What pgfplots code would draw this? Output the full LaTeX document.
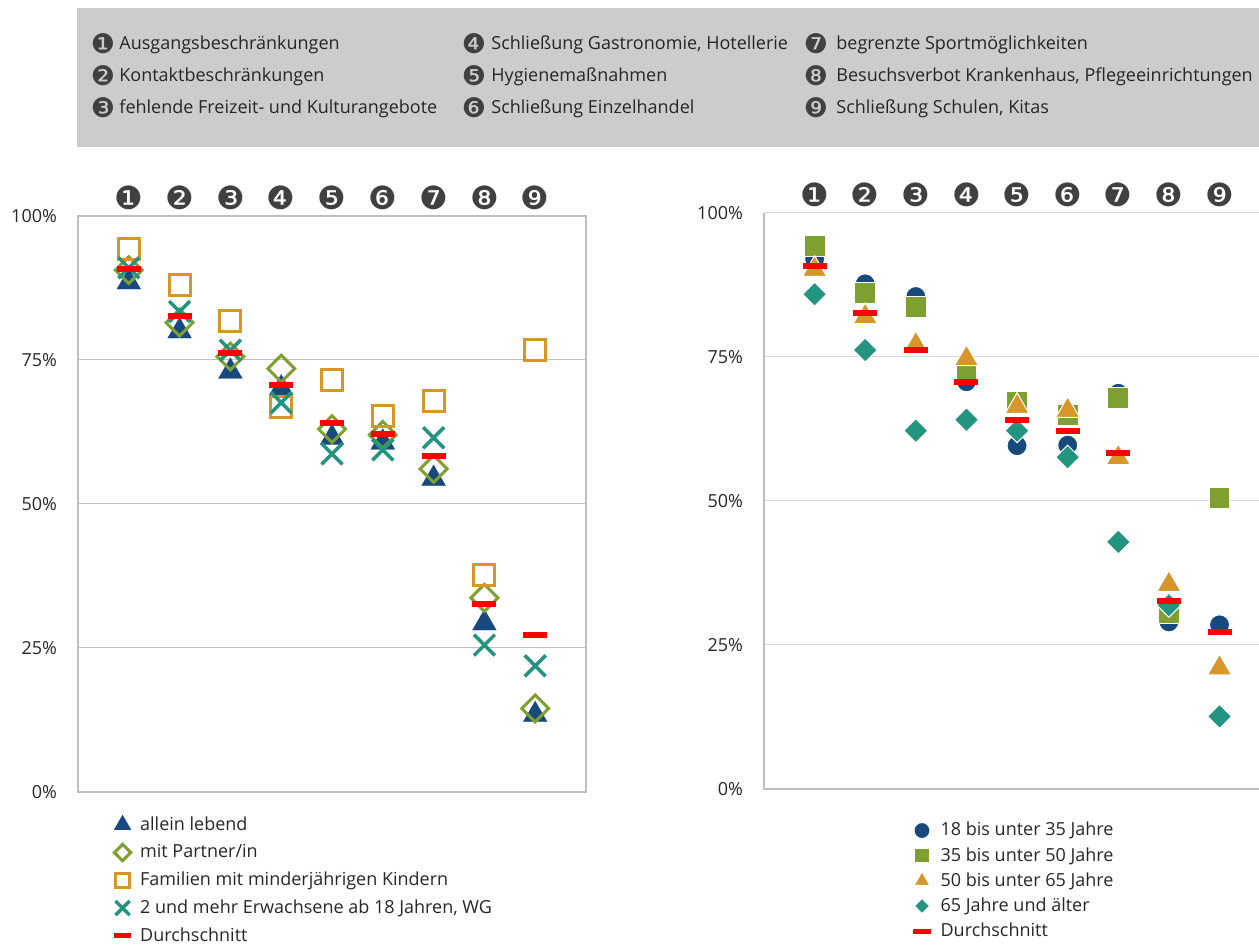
\documentclass[border=0pt]{standalone}
\usepackage{pgfplots}
\pgfplotsset{compat=1.18}
\usepackage{fontspec}
\setmainfont{Open Sans}
\newfontfamily\dingfont{DejaVu Sans}

\definecolor{boxgray}{RGB}{204,204,204}
\definecolor{txt}{RGB}{38,38,38}
\definecolor{dig}{RGB}{64,64,64}
\definecolor{cblue}{RGB}{23,72,126}
\definecolor{cgreen}{RGB}{126,160,48}
\definecolor{corange}{RGB}{217,150,40}
\definecolor{cteal}{RGB}{34,148,128}
\definecolor{framec}{RGB}{191,191,191}
\definecolor{gridr}{RGB}{217,217,217}

\pgfplotsset{
  base/.style={
    scale only axis, height=288pt,
    xmin=0, ymin=0, ymax=100,
    clip=false, only marks,
    legend image code/.code={\draw[mark repeat=2,mark phase=2,##1] plot coordinates {(0pt,0pt)(5pt,0pt)(10pt,0pt)};},
    xtick={1,2,3,4,5,6,7,8,9},
    xticklabels={❶,❷,❸,❹,❺,❻,❼,❽,❾},
    xticklabel pos=upper,
    xticklabel style={font=\dingfont\fontsize{16}{16}\selectfont, text=dig,
      inner sep=0pt, anchor=south, yshift=3pt},
    ytick={0,25,50,75,100},
    yticklabels={0\%,25\%,50\%,75\%,100\%},
    yticklabel style={font=\fontsize{9}{9}\selectfont, text=txt, xshift=-7pt},
    major tick length=0pt,
    legend cell align=left,
    legend style={draw=none, fill=none, anchor=north west,
      font=\fontsize{9}{9}\selectfont, text=txt, inner sep=0pt},
  },
}

\begin{document}
\begin{tikzpicture}
\useasboundingbox (0,0) rectangle (629.5pt,472.5pt);

\begin{scope}[x=0.5pt,y=0.5pt]
\fill[boxgray] (77,798) rectangle (1259,937);
\begin{scope}[every node/.style={inner sep=0pt, text=txt, font=\fontsize{9}{9}\selectfont}]
\node[anchor=base west] at (119,895) {Ausgangsbeschränkungen};
\node[anchor=base west] at (119,863) {Kontaktbeschränkungen};
\node[anchor=base west] at (119,831) {fehlende Freizeit- und Kulturangebote};
\node[anchor=base west] at (491,895) {Schließung Gastronomie, Hotellerie};
\node[anchor=base west] at (491,863) {Hygienemaßnahmen};
\node[anchor=base west] at (491,831) {Schließung Einzelhandel};
\node[anchor=base west] at (836,895) {begrenzte Sportmöglichkeiten};
\node[anchor=base west] at (836,863) {Besuchsverbot Krankenhaus, Pflegeeinrichtungen};
\node[anchor=base west] at (836,831) {Schließung Schulen, Kitas};
\end{scope}
\begin{scope}[every node/.style={inner sep=0pt, anchor=center, text=dig, font=\dingfont\fontsize{13.5}{13.5}\selectfont}]
\node at (103,901) {❶};
\node at (103,869) {❷};
\node at (103,837) {❸};
\node at (474,901) {❹};
\node at (474,869) {❺};
\node at (474,837) {❻};
\node at (816,901) {❼};
\node at (816,869) {❽};
\node at (816,837) {❾};
\end{scope}
\end{scope}

% left chart: household types
\begin{axis}[base,
  width=254pt, xmax=10,
  at={(39pt,76.5pt)}, anchor=south west,
  axis line style={draw=framec, line width=0.7pt},
  ymajorgrids, grid style={draw=framec, line width=0.5pt},
  legend style={at={(0.07,-0.035)}, row sep=1.6pt, column sep=2.5pt},
]
\addplot[color=cblue, mark=triangle*, mark size=6.9pt,
  mark options={fill=cblue, draw=cblue, line width=0.1pt},
  legend image post style={mark size=4.9pt}]
  coordinates {(1,88.5) (2,80.0) (3,73.0) (4,70.1) (5,61.5) (6,60.7) (7,54.4) (8,29.3) (9,13.4)};
\addplot[color=cgreen, mark=square, mark size=4.75pt,
  mark options={rotate=45, line width=1.5pt},
  legend image post style={mark size=2.9pt}]
  coordinates {(1,90.6) (2,81.5) (3,75.6) (4,73.5) (5,63.0) (6,62.0) (7,56.1) (8,33.7) (9,14.5)};
\addplot[color=corange, mark=square, mark size=5.25pt,
  mark options={line width=1.5pt},
  legend image post style={mark size=3.5pt}]
  coordinates {(1,94.3) (2,88.1) (3,81.8) (4,66.9) (5,71.5) (6,65.2) (7,67.9) (8,37.7) (9,76.8)};
\addplot[color=cteal, mark=x, mark size=7.4pt,
  mark options={line width=1.75pt},
  legend image post style={mark size=5pt}]
  coordinates {(1,91.0) (2,83.4) (3,76.7) (4,67.6) (5,58.7) (6,59.4) (7,61.5) (8,25.5) (9,21.9)};
\addplot[color=red, mark=-, mark size=6pt,
  mark options={line width=3pt},
  legend image post style={mark size=4.3pt, mark options={line width=2.5pt}}]
  coordinates {(1,90.8) (2,82.7) (3,76.2) (4,70.7) (5,64.1) (6,62.2) (7,58.3) (8,32.7) (9,27.3)};
\legend{allein lebend, mit Partner/in, Familien mit minderjährigen Kindern,
  {2 und mehr Erwachsene ab 18 Jahren, WG}, Durchschnitt}
\end{axis}

% right chart: age groups (cut at the right edge as in the original)
\begin{axis}[base,
  width=247.5pt, xmax=9.78,
  at={(382pt,78pt)}, anchor=south west,
  axis line style={draw=none},
  ymajorgrids, grid style={draw=gridr, line width=0.5pt},
  legend style={at={(0.301,-0.05)}, row sep=0.25pt, column sep=3pt},
]
\draw[framec, line width=0.7pt] (axis cs:9.78,0) -- (axis cs:0,0) -- (axis cs:0,100);
\addplot[color=cblue, mark=*, mark size=5pt,
  mark options={fill=cblue, draw=white, line width=0.5pt},
  legend image post style={mark size=4pt}]
  coordinates {(1,92.0) (2,87.7) (3,85.5) (4,70.7) (5,59.6) (6,59.7) (7,68.7) (8,29.0) (9,28.5)};
\addplot[color=cgreen, mark=square*, mark size=5.2pt,
  mark options={fill=cgreen, draw=white, line width=0.5pt},
  legend image post style={mark size=3.6pt}]
  coordinates {(1,94.3) (2,86.1) (3,83.7) (4,72.2) (5,67.2) (6,64.9) (7,67.9) (8,30.5) (9,50.5)};
\addplot[color=corange, mark=triangle*, mark size=6.9pt,
  mark options={fill=corange, draw=white, line width=0.5pt},
  legend image post style={mark size=4.6pt}]
  coordinates {(1,90.2) (2,82.0) (3,77.1) (4,74.7) (5,66.4) (6,65.7) (7,57.5) (8,35.5) (9,21.0)};
\addplot[color=cteal, mark=square*, mark size=4.25pt,
  mark options={rotate=45, fill=cteal, draw=white, line width=0.5pt},
  legend image post style={mark size=2.7pt}]
  coordinates {(1,85.9) (2,76.2) (3,62.2) (4,64.1) (5,62.2) (6,57.6) (7,42.9) (8,31.9) (9,12.6)};
\addplot[color=red, mark=-, mark size=6pt,
  mark options={line width=3pt},
  legend image post style={mark size=4.3pt, mark options={line width=2.5pt}}]
  coordinates {(1,90.8) (2,82.7) (3,76.2) (4,70.7) (5,64.1) (6,62.2) (7,58.3) (8,32.7) (9,27.3)};
\legend{18 bis unter 35 Jahre, 35 bis unter 50 Jahre, 50 bis unter 65 Jahre,
  65 Jahre und älter, Durchschnitt}
\end{axis}
\end{tikzpicture}
\end{document}
